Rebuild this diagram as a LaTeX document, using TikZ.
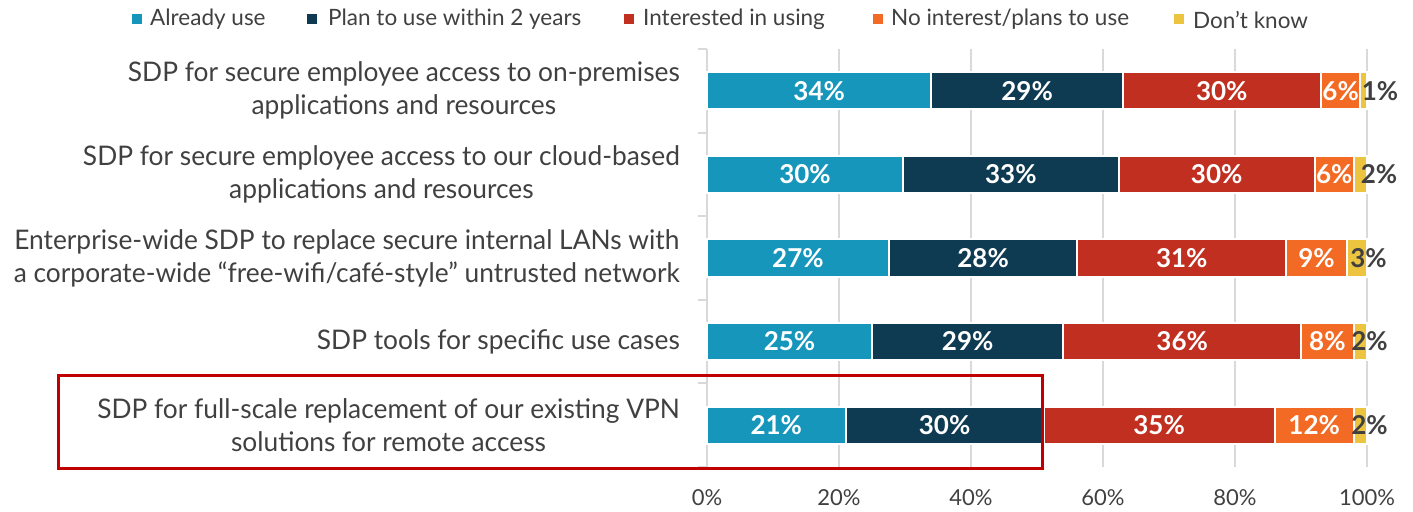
\documentclass[tikz,border=0pt]{standalone}
\usepackage{fontspec}
\setmainfont{Lato}
\newfontfamily\catfont{Lato}[FakeStretch=0.975]
\definecolor{cAlready}{HTML}{1696BB}
\definecolor{cPlan}{HTML}{0F3B52}
\definecolor{cInt}{HTML}{C02F1F}
\definecolor{cNo}{HTML}{F26A23}
\definecolor{cDK}{HTML}{ECC440}
\definecolor{txt}{HTML}{404040}
\definecolor{grid}{HTML}{D9D9D9}
\definecolor{hl}{HTML}{C00000}
\tikzset{
  catlabel/.style={anchor=east, align=center, text=txt, font=\catfont\fontsize{27bp}{33bp}\selectfont, inner sep=0pt},
  leglabel/.style={anchor=west, text=txt, font=\fontsize{22.5bp}{26bp}\selectfont, inner sep=0pt},
  legmark/.style={minimum size=9.5bp, inner sep=0pt, draw=none},
  axlabel/.style={text=txt, font=\fontsize{22bp}{26bp}\selectfont, inner sep=0pt},
  vallabel/.style={text=white, font=\bfseries\fontsize{26bp}{30bp}\selectfont, inner sep=0pt},
  outlabel/.style={text=txt, font=\bfseries\fontsize{26bp}{30bp}\selectfont, inner sep=0pt},
  seg/.style={draw=white, line width=2bp},
  gridline/.style={draw=grid, line width=2bp},
}
\begin{document}
\begin{tikzpicture}[x=1bp, y=-1bp]
\useasboundingbox (0,0) rectangle (1413,512);
% gridlines
\foreach \p in {20,40,60,80,100}{
  \draw[gridline] ({707+6.6*\p},49) -- ({707+6.6*\p},467);
}
\draw[gridline] (707,49) -- (707,467);
\foreach \k in {0,...,5}{
  \draw[gridline] (698,{49+83.6*\k}) -- (707,{49+83.6*\k});
}
% axis labels
\foreach \p in {0,20,40,60,80,100}{
  \node[axlabel] (ax\p) at ({707+6.6*\p},498) {\p\%};
}
% legend
\node[legmark, fill=cAlready] (m1) at (137,19) {};
\node[leglabel] (l1) at (150,19.5) {Already use};
\node[legmark, fill=cPlan] (m2) at (312,19) {};
\node[leglabel] (l2) at (328,19.5) {Plan to use within 2 years};
\node[legmark, fill=cInt] (m3) at (629,19) {};
\node[leglabel] (l3) at (643,19.5) {Interested in using};
\node[legmark, fill=cNo] (m4) at (878,19) {};
\node[leglabel] (l4) at (891,19.5) {No interest/plans to use};
\node[legmark, fill=cDK] (m5) at (1179,19) {};
\node[leglabel] (l5) at (1193,19.5) {Don’t know};
% bars
\foreach \r/\y/\a/\b/\c/\d/\e/\lx in {
  1/90.8/34/29/30/6/1/1380,
  2/174.4/30/33/30/6/2/1379,
  3/258/27/28/31/9/3/1368.5,
  4/341.6/25/29/36/8/2/1369.5,
  5/425.2/21/30/35/12/2/1369.5}{
  \pgfmathsetmacro{\s}{\a+\b+\c+\d+\e}
  \pgfmathsetmacro{\f}{660/\s}
  \pgfmathsetmacro{\xa}{707+\f*\a}
  \pgfmathsetmacro{\xb}{707+\f*(\a+\b)}
  \pgfmathsetmacro{\xc}{707+\f*(\a+\b+\c)}
  \pgfmathsetmacro{\xd}{707+\f*(\a+\b+\c+\d)}
  \pgfmathsetmacro{\yt}{\y-18.5}
  \pgfmathsetmacro{\yb}{\y+18.5}
  \path[seg, fill=cAlready] (707,\yt) rectangle (\xa,\yb);
  \path[seg, fill=cPlan] (\xa,\yt) rectangle (\xb,\yb);
  \path[seg, fill=cInt] (\xb,\yt) rectangle (\xc,\yb);
  \path[seg, fill=cNo] (\xc,\yt) rectangle (\xd,\yb);
  \path[seg, fill=cDK] (\xd,\yt) rectangle (1367,\yb);
  \node[vallabel] (v\r a) at ({(707+\xa)/2},\y) {\a\%};
  \node[vallabel] (v\r b) at ({(\xa+\xb)/2},\y) {\b\%};
  \node[vallabel] (v\r c) at ({(\xb+\xc)/2},\y) {\c\%};
  \node[vallabel] (v\r d) at ({(\xc+\xd)/2},\y) {\d\%};
  \node[outlabel] (v\r e) at (\lx,\y) {\e\%};
}
% category labels
\node[catlabel] (c1) at (680,90.8) {SDP for secure employee access to on-premises\\applications and resources};
\node[catlabel] (c2) at (680,174.4) {SDP for secure employee access to our cloud-based\\applications and resources};
\node[catlabel] (c3) at (680,258) {Enterprise-wide SDP to replace secure internal LANs with\\a corporate-wide “free-wifi/café-style” untrusted network};
\node[catlabel] (c4) at (680,341.6) {SDP tools for specific use cases};
\node[catlabel] (c5) at (680,425.2) {SDP for full-scale replacement of our existing VPN\\solutions for remote access};
% highlight box
\draw[hl, line width=2.5bp] (58.3,375.3) rectangle (1042.3,468.3);
\end{tikzpicture}
\end{document}
